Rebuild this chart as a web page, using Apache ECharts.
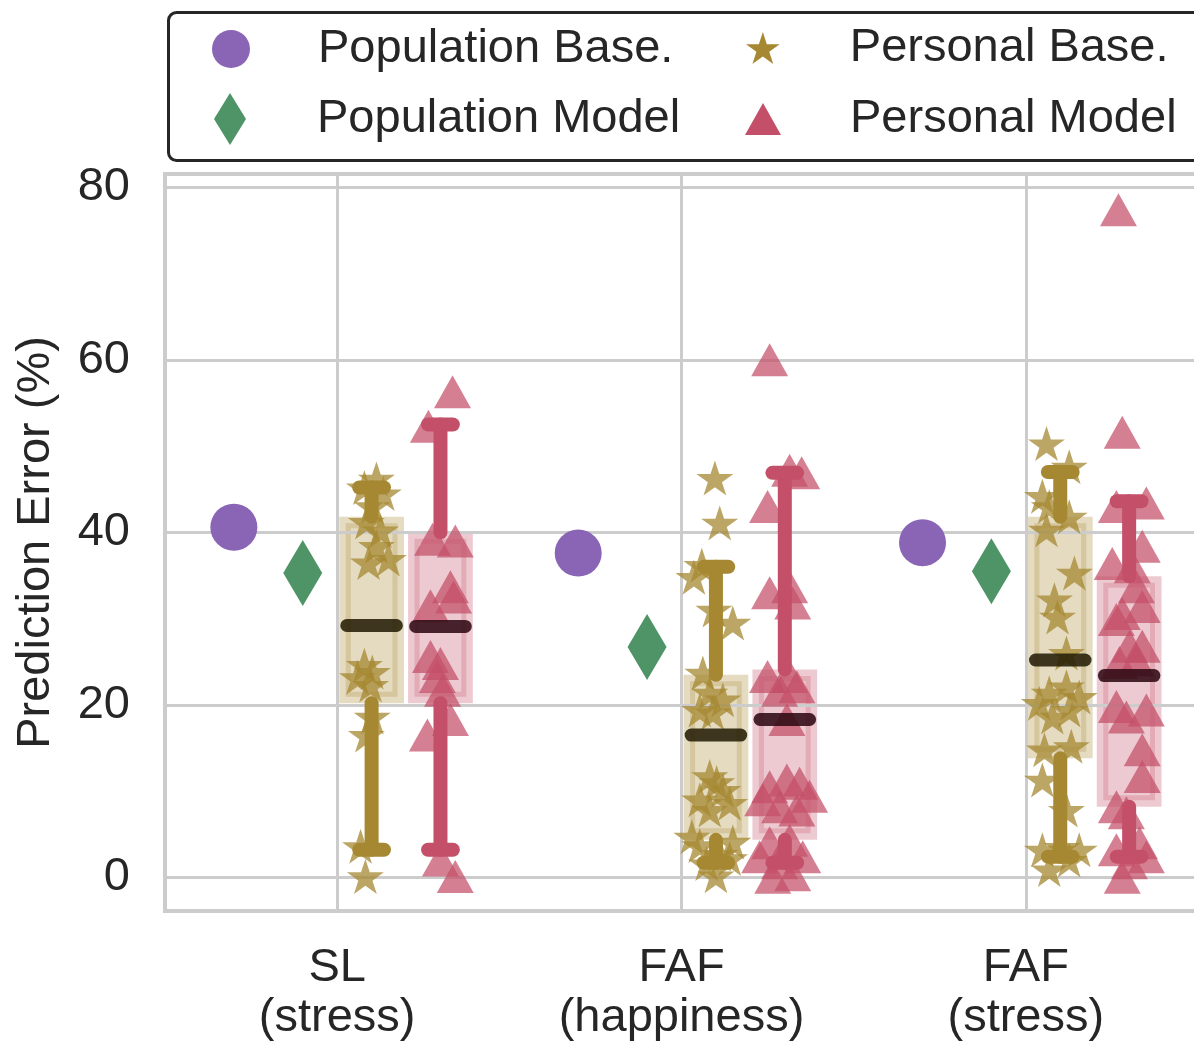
<!DOCTYPE html>
<html><head><meta charset="utf-8">
<script src="https://cdn.jsdelivr.net/npm/echarts@6/dist/echarts.min.js"></script>
<style>html,body{margin:0;padding:0;background:#fff}#chart{width:1194px;height:1042px}</style>
</head><body><div id="chart"></div>
<script>
// ---------- data ----------
const categories = ['SL\n(stress)', 'FAF\n(happiness)', 'FAF\n(stress)'];
const populationBase = [40.6, 37.6, 38.8];
const populationModel = [35.3, 26.7, 35.5];
// [lower whisker, Q1, median, Q3, upper whisker]
const personalBaseStats = [[3.2, 20.2, 29.2, 41.8, 45.2], [1.7, 4.35, 16.5, 23.5, 36.0], [2.4, 13.8, 25.2, 41.8, 47.0]];
const personalModelStats = [[3.2, 20.2, 29.1, 40.0, 52.5], [1.7, 4.35, 18.3, 24.1, 46.9], [2.4, 8.2, 23.4, 34.9, 43.6]];
// individual participants (value) and their horizontal jitter (category units)
const personalBaseSL = [46.2, 45.2, 44.5, 43.0, 41.2, 40.2, 38.4, 36.9, 36.5, 24.6, 23.8, 23.2, 22.3, 18.6, 16.5, 3.6, 0.1];
const personalBaseSLJitter = [0.014, -0.021, 0.034, 0.002, -0.015, 0.026, 0.014, 0.049, -0.009, -0.021, 0.002, -0.041, -0.003, 0.002, -0.015, -0.032, -0.018];
const personalModelSL = [56.3, 52.3, 39.2, 39.0, 33.7, 32.5, 31.5, 25.6, 24.8, 23.3, 21.7, 18.3, 16.5, 2.0, 0.1];
const personalModelSLJitter = [0.035, -0.035, -0.023, 0.043, 0.029, 0.038, -0.029, -0.029, 0.000, -0.009, 0.006, 0.029, -0.038, 0.000, 0.043];
const personalBaseFAFh = [46.3, 41.1, 36.2, 34.8, 31.0, 29.5, 23.7, 21.4, 20.6, 19.4, 19.1, 11.7, 11.0, 10.1, 9.0, 8.6, 7.8, 4.7, 4.1, 3.7, 2.7, 2.2, 1.6, 0.2];
const personalBaseFAFhJitter = [-0.003, 0.011, -0.041, -0.064, -0.006, 0.049, -0.038, -0.018, 0.020, -0.047, -0.009, -0.018, 0.002, 0.020, -0.047, 0.040, -0.018, -0.070, 0.049, -0.047, 0.011, 0.040, -0.027, 0.000];
const personalModelFAFh = [60.0, 47.2, 46.9, 43.0, 33.7, 33.0, 31.8, 23.3, 23.3, 22.1, 21.7, 18.3, 11.3, 10.9, 10.5, 9.4, 9.0, 8.2, 7.8, 4.3, 4.0, 2.4, 2.4, 1.7, 0.3, 0.0];
const personalModelFAFhJitter = [-0.044, 0.014, 0.049, -0.050, 0.014, -0.044, 0.023, -0.050, 0.014, 0.035, -0.015, 0.006, 0.006, 0.043, -0.044, 0.072, -0.064, -0.015, 0.035, 0.014, -0.044, -0.073, 0.052, -0.015, 0.023, -0.035];
const personalBaseFAFs = [50.3, 47.6, 44.2, 43.0, 41.8, 40.3, 35.3, 32.2, 30.2, 26.0, 22.1, 21.4, 20.9, 20.2, 19.4, 18.6, 15.2, 14.8, 11.3, 7.8, 3.5, 3.2, 3.2, 2.0, 0.9];
const personalBaseFAFsJitter = [-0.040, 0.026, -0.052, -0.032, 0.026, -0.040, 0.041, -0.017, -0.008, 0.018, 0.018, -0.032, 0.055, -0.061, 0.026, -0.023, 0.032, -0.046, -0.052, 0.018, 0.006, -0.052, 0.055, 0.026, -0.032];
const personalModelFAFs = [77.4, 51.6, 43.4, 43.0, 38.4, 36.4, 36.0, 33.7, 31.4, 30.6, 29.9, 26.8, 26.8, 25.2, 24.9, 19.8, 19.4, 18.6, 14.8, 11.7, 8.2, 7.5, 4.0, 3.2, 2.4, 1.7, 0.0];
const personalModelFAFsJitter = [-0.031, -0.020, 0.050, -0.037, 0.038, -0.049, 0.009, 0.021, 0.038, -0.020, -0.037, 0.001, 0.038, 0.021, -0.028, -0.037, 0.050, -0.008, 0.038, 0.038, -0.037, -0.008, 0.030, -0.037, 0.050, 0.001, -0.020];

// ---------- styling / layout ----------
const PURPLE = '#8a64b5', GREEN = '#4e9466', GOLD = '#a68832', RED = '#c34f68';
const TEXT = '#262626', GRIDC = '#cccccc';
const FONT = 'Liberation Sans';
const OFF = {popBase: -0.3, popModel: -0.1, persBase: 0.1, persModel: 0.3};
const BOX_HALF = 0.094, MED_HALF = 0.072, CAP_HALF = 0.036;
const STAR = 'path://M100,0 L122.45,69.1 L195.11,69.1 L136.33,111.8 L158.78,180.9 L100,138.2 L41.22,180.9 L63.67,111.8 L4.89,69.1 L77.55,69.1 Z';
const DIAMOND = 'path://M16,0 L32,26 L16,52 L0,26 Z';
const TRI = 'path://M18,0 L36,32 L0,32 Z';

const baseValues = [personalBaseSL, personalBaseFAFh, personalBaseFAFs];
const baseJitter = [personalBaseSLJitter, personalBaseFAFhJitter, personalBaseFAFsJitter];
const modelValues = [personalModelSL, personalModelFAFh, personalModelFAFs];
const modelJitter = [personalModelSLJitter, personalModelFAFhJitter, personalModelFAFsJitter];

function pointData(values, jitter, off) {
  const out = [];
  values.forEach((arr, i) => arr.forEach((v, j) => out.push([i + off + jitter[i][j], v])));
  return out;
}
function statData(stats, off) {
  return stats.map((s, i) => [i + off].concat(s));
}
function boxSeries(stats, off, fill, band) {
  return {
    type: 'custom', name: 'box', xAxisIndex: 1, z: 0, silent: true,
    encode: {x: 0, y: [1, 2, 3, 4, 5]},
    data: statData(stats, off),
    renderItem: (p, api) => {
      const x = api.value(0), q1 = api.value(2), q3 = api.value(4);
      const a = api.coord([x - BOX_HALF, q3]), b = api.coord([x + BOX_HALF, q1]);
      const w = b[0] - a[0], h = b[1] - a[1], ins = 9;
      return {type: 'group', children: [
        {type: 'rect', shape: {x: a[0], y: a[1], width: w, height: h}, style: {fill: fill}},
        {type: 'rect', shape: {x: a[0] + ins, y: a[1] + ins, width: w - 2 * ins, height: h - 2 * ins}, style: {fill: null, stroke: band, lineWidth: 5}}
      ]};
    }
  };
}
function whiskerSeries(stats, off, color) {
  return {
    type: 'custom', name: 'whisker', xAxisIndex: 1, z: 4, silent: true,
    encode: {x: 0, y: [1, 2, 3, 4, 5]},
    data: statData(stats, off),
    renderItem: (p, api) => {
      const x = api.value(0), lo = api.value(1), q1 = api.value(2), q3 = api.value(4), hi = api.value(5);
      const st = {stroke: color, lineWidth: 14, lineCap: 'round'};
      const seg = (p1, p2) => ({type: 'line', shape: {x1: p1[0], y1: p1[1], x2: p2[0], y2: p2[1]}, style: st});
      return {type: 'group', children: [
        seg(api.coord([x, q3]), api.coord([x, hi])),
        seg(api.coord([x - CAP_HALF, hi]), api.coord([x + CAP_HALF, hi])),
        seg(api.coord([x, q1]), api.coord([x, lo])),
        seg(api.coord([x - CAP_HALF, lo]), api.coord([x + CAP_HALF, lo]))
      ]};
    }
  };
}
function medianSeries(stats, off, color) {
  return {
    type: 'custom', name: 'median', xAxisIndex: 1, z: 5, silent: true,
    encode: {x: 0, y: 3},
    data: statData(stats, off),
    renderItem: (p, api) => {
      const x = api.value(0), m = api.value(3);
      const a = api.coord([x - MED_HALF, m]), b = api.coord([x + MED_HALF, m]);
      return {type: 'line', shape: {x1: a[0], y1: a[1], x2: b[0], y2: b[1]},
        style: {stroke: color, lineWidth: 13, lineCap: 'round'}};
    }
  };
}

const legendText = {color: TEXT, fontSize: 47, fontFamily: FONT};
function legendOne(name, icon, color, left, top, w, h) {
  return {left: left, top: top, padding: 0, itemWidth: w, itemHeight: h, selectedMode: false,
    textStyle: legendText, data: [{name: name, icon: icon, itemStyle: {color: color, opacity: 1}}]};
}

const chart = echarts.init(document.getElementById('chart'), null, {renderer: 'canvas'});
chart.setOption({
  animation: false,
  backgroundColor: '#ffffff',
  textStyle: {fontFamily: FONT},
  grid: {left: 165, right: -4, top: 174, bottom: 131, show: true, borderColor: GRIDC, borderWidth: 4, outerBoundsMode: 'none', containLabel: false},
  legend: [
    legendOne('Population Base.', 'circle', PURPLE, 212, 25.5, 164, 38),
    legendOne('Population Model', DIAMOND, GREEN, 214, 93, 164, 52),
    legendOne('Personal Base.', STAR, GOLD, 746, 24.5, 164, 32),
    legendOne('Personal Model', TRI, RED, 745, 95.5, 164, 32)
  ],
  graphic: [{type: 'rect', left: 166, top: 10, shape: {width: 1100, height: 148, r: 8}, style: {fill: null, stroke: TEXT, lineWidth: 3}, z: 10}],
  xAxis: [
    {type: 'category', data: categories, boundaryGap: true, z: 1,
      axisLine: {show: false}, axisTick: {show: false},
      axisLabel: {color: TEXT, fontSize: 47, fontFamily: FONT, lineHeight: 50, margin: 32, interval: 0},
      splitLine: {show: true, alignWithLabel: true, lineStyle: {color: GRIDC, width: 3}}},
    {type: 'value', min: -0.5, max: 2.5, show: false}
  ],
  yAxis: {type: 'value', min: -3.9, max: 81.55, z: 1,
    name: 'Prediction Error (%)', nameLocation: 'middle', nameRotate: 90, nameGap: 105,
    nameTextStyle: {color: TEXT, fontSize: 47, fontFamily: FONT},
    axisLine: {show: false}, axisTick: {show: false},
    axisLabel: {color: TEXT, fontSize: 47, fontFamily: FONT, margin: 35, padding: [12, 0, 0, 0], showMinLabel: false, showMaxLabel: false},
    splitLine: {show: true, lineStyle: {color: GRIDC, width: 3}}},
  series: [
    boxSeries(personalBaseStats, OFF.persBase, 'rgba(166,136,50,0.3)', 'rgba(166,136,50,0.25)'),
    boxSeries(personalModelStats, OFF.persModel, 'rgba(195,79,104,0.3)', 'rgba(195,79,104,0.25)'),
    {type: 'scatter', name: 'Population Base.', xAxisIndex: 1, z: 3, symbol: 'circle', symbolSize: 47,
      itemStyle: {color: PURPLE, opacity: 1}, data: populationBase.map((v, i) => [i + OFF.popBase, v])},
    {type: 'scatter', name: 'Population Model', xAxisIndex: 1, z: 3, symbol: 'diamond', symbolSize: [39, 66],
      itemStyle: {color: GREEN, opacity: 1}, data: populationModel.map((v, i) => [i + OFF.popModel, v])},
    {type: 'scatter', name: 'Personal Base.', xAxisIndex: 1, z: 3, symbol: STAR, symbolSize: [37, 35],
      itemStyle: {color: GOLD, opacity: 0.75}, data: pointData(baseValues, baseJitter, OFF.persBase)},
    {type: 'scatter', name: 'Personal Model', xAxisIndex: 1, z: 3, symbol: 'triangle', symbolSize: [37, 33],
      itemStyle: {color: RED, opacity: 0.72}, data: pointData(modelValues, modelJitter, OFF.persModel)},
    whiskerSeries(personalBaseStats, OFF.persBase, GOLD),
    whiskerSeries(personalModelStats, OFF.persModel, RED),
    medianSeries(personalBaseStats, OFF.persBase, 'rgba(38,30,6,0.88)'),
    medianSeries(personalModelStats, OFF.persModel, 'rgba(48,10,20,0.88)')
  ]
});
</script></body></html>
